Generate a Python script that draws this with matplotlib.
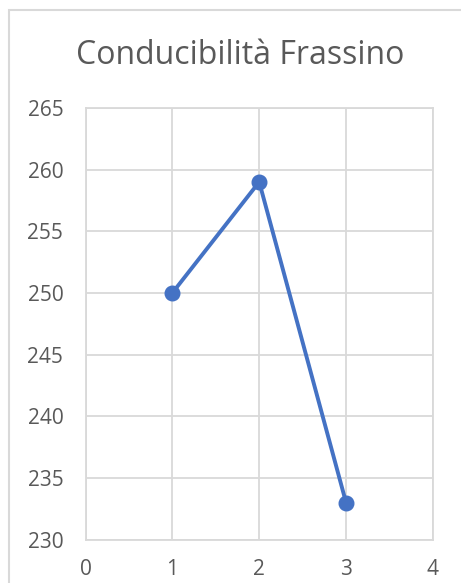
import matplotlib
matplotlib.use("Agg")
import matplotlib.pyplot as plt
from matplotlib.patches import Rectangle

x_vals = [1, 2, 3]
conduc = [250, 259, 233]
x_ticks = [0, 1, 2, 3, 4]
y_ticks = [230, 235, 240, 245, 250, 255, 260, 265]

plt.rcParams["font.family"] = ["Open Sans", "DejaVu Sans"]
grey_txt = "#595959"
grid_col = "#d9d9d9"

fig = plt.figure(figsize=(4.61, 5.83), dpi=100)
ax = fig.add_axes([0.1855, 0.0746, 0.939 - 0.1855, 0.8148 - 0.0746])

# chart border (runs off the right/bottom edge like the screenshot)
fig.patches.append(Rectangle((9 / 461, -0.1), 1.2, 1 - 10 / 583 + 0.1,
                             transform=fig.transFigure, fill=False,
                             edgecolor=grid_col, linewidth=1.5))

ax.plot(x_vals, conduc, color="#4472C4", linewidth=2.8, marker="o",
        markersize=10.5, zorder=3)

ax.set_xlim(0, 4)
ax.set_ylim(230, 265)
ax.set_xticks(x_ticks)
ax.set_yticks(y_ticks)
ax.grid(True, color=grid_col, linewidth=1.3)
ax.set_axisbelow(True)
for s in ax.spines.values():
    s.set_color(grid_col)
    s.set_linewidth(1.3)
ax.tick_params(length=0, labelsize=15, colors=grey_txt)
ax.tick_params(axis="y", pad=16)
ax.tick_params(axis="x", pad=14)

fig.text(0.52, 0.905, "Conducibilità Frassino", ha="center", va="center",
         fontsize=23, color=grey_txt)

fig.savefig("out.png", dpi=100)
